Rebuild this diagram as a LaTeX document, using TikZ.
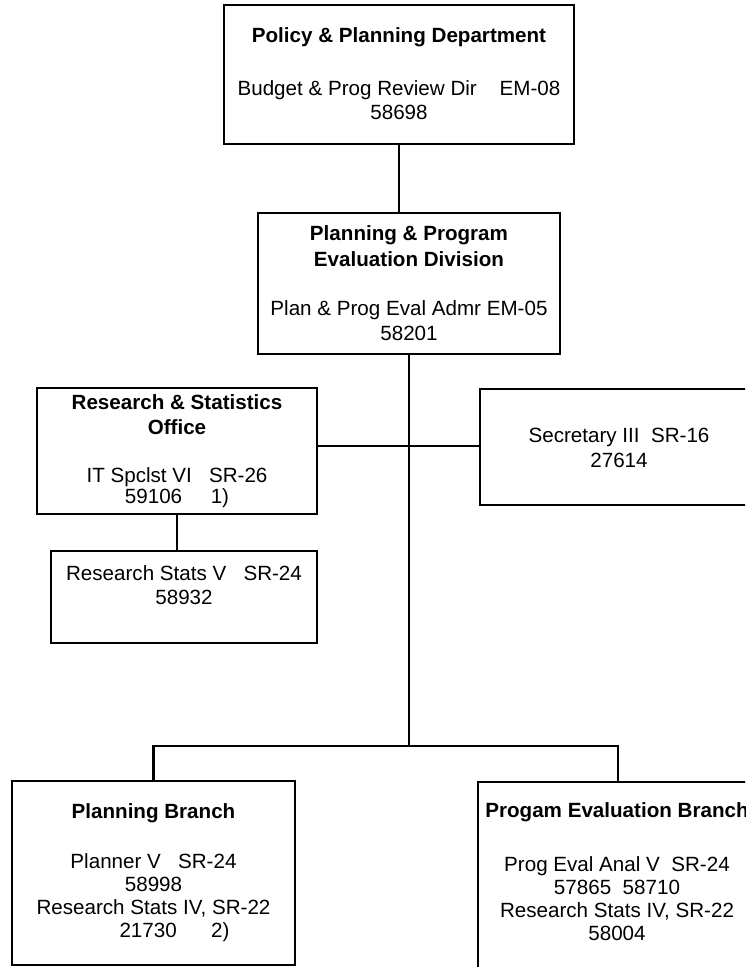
\documentclass[tikz,border=0pt]{standalone}
\usepackage{fontspec}
\setmainfont{Liberation Sans}
\begin{document}
\begin{tikzpicture}[x=1pt,y=-1pt,
  box/.style={draw, line width=2.5pt, rectangle, inner sep=0pt},
  wire/.style={line width=2.3pt},
  txt/.style={align=center, inner sep=0pt, font=\fontsize{20.6}{24}\selectfont},
  ttl/.style={align=center, inner sep=0pt, font=\fontsize{20.6}{26}\selectfont\bfseries}]
\useasboundingbox (0,0) rectangle (745,967);
\clip (0,0) rectangle (745,967);

% boxes
\node[box, minimum width=350pt, minimum height=139pt] (dept) at (399,74.5) {};
\node[box, minimum width=302pt, minimum height=141pt] (div)  at (409,283.5) {};
\node[box, minimum width=280pt, minimum height=126pt] (rso)  at (177,451) {};
\node[box, minimum width=266pt, minimum height=92pt]  (rsv)  at (184,597) {};
\node[box, minimum width=278pt, minimum height=116pt] (sec)  at (619,447) {};
\node[box, minimum width=283pt, minimum height=184pt] (plan) at (153.5,873) {};
\node[box, minimum width=280pt, minimum height=218pt] (prog) at (618,891) {};

% texts
\node[ttl] (deptT) at (399,37) {Policy \& Planning Department};
\node[txt] (deptB) at (399,100) {Budget \& Prog Review Dir~~~~EM-08\\58698};
\node[ttl] (divT) at (409,246.5) {Planning \& Program\\Evaluation Division};
\node[txt, font=\fontsize{20.6}{25}\selectfont] (divB) at (409,320.5) {Plan \& Prog Eval Admr EM-05\\58201};
\node[ttl, font=\fontsize{20.6}{25}\selectfont\bfseries] (rsoT) at (177,414.5) {Research \& Statistics\\Office};
\node[txt, font=\fontsize{20.6}{21}\selectfont] (rsoB) at (177,487.5) {IT Spclst VI~~~SR-26\\59106~~~~~1)};
\node[txt] (rsvB) at (184,585) {Research Stats V~~~SR-24\\58932};
\node[txt, font=\fontsize{20.6}{25}\selectfont] (secB) at (619,447.5) {Secretary III~~SR-16\\27614};
\node[ttl] (planT) at (153.5,813) {Planning Branch};
\node[txt, font=\fontsize{20.6}{23}\selectfont] (planB) at (153.5,897.5) {Planner V~~~SR-24\\58998\\Research Stats IV, SR-22\\\hspace*{42pt}21730~~~~~~2)};
\node[ttl] (progT) at (617,812) {Progam Evaluation Branch};
\node[txt, font=\fontsize{20.6}{23}\selectfont] (progB) at (617,898.5) {Prog Eval Anal V~~SR-24\\57865~~58710\\Research Stats IV, SR-22\\58004};

% connectors
\coordinate (hub) at (409,746);
\coordinate (mid) at (409,446);
\draw[wire] (dept.south) -- (dept.south |- div.north);
\draw[wire] (div.south) -- (hub);
\draw[wire] (rso.east |- mid) -- (sec.west |- mid);
\draw[wire] (rso.south) -- (rso.south |- rsv.north);
\draw[wire] (plan.north) -- (plan.north |- hub) -- (prog.north |- hub) -- (prog.north);
\end{tikzpicture}
\end{document}
